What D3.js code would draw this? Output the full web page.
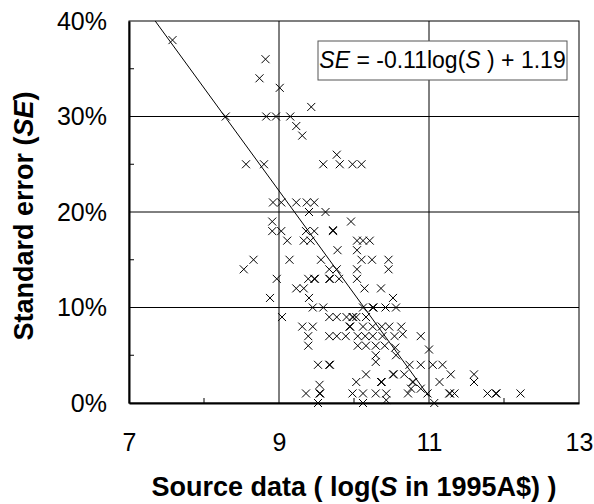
<!DOCTYPE html>
<html>
<head>
<meta charset="utf-8">
<script src="https://cdn.jsdelivr.net/npm/d3@7"></script>
<style>
  body { margin: 0; background: #fff; }
  text { font-family: "Liberation Sans", Arial, sans-serif; fill: #000; }
</style>
</head>
<body>
<div id="chart"></div>
<script>
// log(S) values of each source
const logS = [
  7.58, 8.82, 8.74, 9.01, 9.43,
  8.29, 8.83, 8.96, 9.15,
  9.23, 9.31,
  9.77,
  8.56, 8.80, 9.59, 9.81, 9.98, 10.10,
  8.92, 9.03, 9.23, 9.37, 9.47,
  9.40, 9.62,
  8.91, 9.96,
  8.91, 9.03, 9.36, 9.47, 9.72, 9.72,
  9.11, 9.33, 9.42, 10.04, 10.12, 10.21,
  9.78, 10.04,
  8.66, 9.14, 9.56, 10.10, 10.24, 10.46,
  8.53, 9.67, 9.77, 10.04, 10.46,
  8.97, 9.39, 9.47, 9.48, 9.67, 9.68, 9.80, 10.04,
  9.23, 9.33, 10.14, 10.36,
  8.88, 9.40, 10.52,
  9.45, 9.59, 10.12, 10.25, 10.26, 10.42, 10.56,
  9.04, 9.67, 9.77, 9.90, 9.98, 9.99, 10.03, 10.16,
  9.31, 9.45, 9.94, 9.95, 10.12, 10.25, 10.37, 10.47, 10.63,
  9.39, 9.67, 9.77, 9.89, 10.05, 10.15, 10.25, 10.38, 10.54, 10.65, 10.89,
  9.39, 10.05, 10.16, 10.29, 10.41, 10.55, 11.00,
  10.29, 10.56,
  10.29, 9.52, 9.67, 9.68, 10.74, 10.89, 11.05, 11.18,
  10.16, 10.52, 10.53, 10.67, 11.29, 11.60,
  10.03, 10.36, 10.37, 10.78, 10.79, 11.14, 11.60, 9.54, 10.76, 10.89,
  9.36, 9.54, 9.55, 9.98, 10.12, 10.29, 10.43, 10.72, 10.98, 11.27, 11.28, 11.34, 11.78, 11.89, 11.90, 12.22,
  9.52, 10.12, 10.43, 11.07
];
// standard error of each source (fraction)
const stdErr = [
  0.38, 0.36, 0.34, 0.33, 0.31,
  0.30, 0.30, 0.30, 0.30,
  0.29, 0.28,
  0.26,
  0.25, 0.25, 0.25, 0.25, 0.25, 0.25,
  0.21, 0.21, 0.21, 0.21, 0.21,
  0.20, 0.20,
  0.19, 0.19,
  0.18, 0.18, 0.18, 0.18, 0.18, 0.181,
  0.17, 0.17, 0.17, 0.17, 0.17, 0.17,
  0.16, 0.16,
  0.15, 0.15, 0.15, 0.15, 0.15, 0.15,
  0.14, 0.14, 0.14, 0.14, 0.14,
  0.13, 0.13, 0.13, 0.13, 0.13, 0.13, 0.13, 0.13,
  0.12, 0.12, 0.12, 0.12,
  0.11, 0.11, 0.11,
  0.10, 0.10, 0.10, 0.10, 0.10, 0.10, 0.10,
  0.09, 0.09, 0.09, 0.09, 0.09, 0.09, 0.09, 0.09,
  0.08, 0.08, 0.08, 0.08, 0.08, 0.08, 0.08, 0.08, 0.08,
  0.07, 0.07, 0.07, 0.07, 0.07, 0.07, 0.07, 0.07, 0.07, 0.072, 0.07,
  0.06, 0.06, 0.06, 0.06, 0.06, 0.058, 0.056,
  0.05, 0.05,
  0.043, 0.04, 0.04, 0.04, 0.04, 0.04, 0.04, 0.04,
  0.03, 0.03, 0.03, 0.03, 0.03, 0.03,
  0.022, 0.022, 0.022, 0.022, 0.022, 0.022, 0.022, 0.019, 0.015, 0.015,
  0.01, 0.01, 0.01, 0.01, 0.01, 0.01, 0.01, 0.01, 0.01, 0.01, 0.01, 0.01, 0.01, 0.01, 0.01, 0.01,
  0.0, 0.0, 0.003, 0.0
];

const xTicks = [7, 9, 11, 13];
const xMinor = [8, 10, 12];
const yTicks = [0, 0.1, 0.2, 0.3, 0.4];
const yMinor = [0.05, 0.15, 0.25, 0.35];

// fitted trend line, drawn from the top of the plot to x = 11
const trendSlope = -0.1077, trendIntercept = 1.1915;
const trendX = [7.35, 11.0];

const margin = {top: 21, right: 15, bottom: 101, left: 129},
    width = 594 - margin.left - margin.right,
    height = 504 - margin.top - margin.bottom;

const svg = d3.select("#chart")
    .append("svg")
    .attr("width", 594)
    .attr("height", 504);

const g = svg.append("g")
    .attr("transform", `translate(${margin.left}, ${margin.top})`);

const x = d3.scaleLinear().domain([7, 13]).range([0, width]);
const y = d3.scaleLinear().domain([0, 0.4]).range([height, 0]);

// grid lines
g.append("g")
    .selectAll("line")
    .data(yTicks.slice(1, -1))
    .join("line")
    .attr("x1", 0).attr("x2", width)
    .attr("y1", d => y(d)).attr("y2", d => y(d))
    .attr("stroke", "#000").attr("stroke-width", 1);
g.append("g")
    .selectAll("line")
    .data(xTicks.slice(1, -1))
    .join("line")
    .attr("y1", 0).attr("y2", height)
    .attr("x1", d => x(d)).attr("x2", d => x(d))
    .attr("stroke", "#000").attr("stroke-width", 1);

// frame
g.append("rect")
    .attr("width", width).attr("height", height)
    .attr("fill", "none").attr("stroke", "#000").attr("stroke-width", 1);

// minor ticks (inward)
g.append("g").selectAll("line").data(xMinor).join("line")
    .attr("x1", d => x(d)).attr("x2", d => x(d))
    .attr("y1", height).attr("y2", height - 5)
    .attr("stroke", "#000");
g.append("g").selectAll("line").data(yMinor).join("line")
    .attr("y1", d => y(d)).attr("y2", d => y(d))
    .attr("x1", 0).attr("x2", 5)
    .attr("stroke", "#000");

// axes lines + labels
const xAxis = g.append("g")
    .attr("transform", `translate(0, ${height})`)
    .call(d3.axisBottom(x).tickValues(xTicks).tickSize(0).tickPadding(30).tickFormat(d3.format("d")));
xAxis.select(".domain").attr("stroke-width", 2);
xAxis.selectAll("text").style("font-size", "25px").attr("font-family", null);

const yAxis = g.append("g")
    .call(d3.axisLeft(y).tickValues(yTicks).tickSize(0).tickPadding(22).tickFormat(d3.format(".0%")));
yAxis.select(".domain").attr("stroke-width", 2);
yAxis.selectAll("text").style("font-size", "25px").attr("font-family", null);

// trend line
g.append("line")
    .attr("x1", x(trendX[0])).attr("y1", y(trendIntercept + trendSlope * trendX[0]))
    .attr("x2", x(trendX[1])).attr("y2", y(trendIntercept + trendSlope * trendX[1]))
    .attr("stroke", "#000").attr("stroke-width", 1);

// points as x marks
const s = 4;
g.append("g")
    .selectAll("path")
    .data(logS.map((v, i) => [v, stdErr[i]]))
    .join("path")
    .attr("d", d => {
        const cx = x(d[0]), cy = y(d[1]);
        return `M${cx - s},${cy - s}L${cx + s},${cy + s}M${cx - s},${cy + s}L${cx + s},${cy - s}`;
    })
    .attr("stroke", "#000").attr("stroke-width", 1).attr("fill", "none");

// equation box
const eq = svg.append("g");
eq.append("rect")
    .attr("x", 318).attr("y", 41).attr("width", 249).attr("height", 39)
    .attr("fill", "#fff").attr("stroke", "#555").attr("stroke-width", 1);
const eqText = eq.append("text")
    .attr("x", 442.5).attr("y", 68)
    .attr("text-anchor", "middle")
    .style("font-size", "23px");
eqText.append("tspan").style("font-style", "italic").text("SE");
eqText.append("tspan").text(" = -0.11log(");
eqText.append("tspan").style("font-style", "italic").text("S");
eqText.append("tspan").text(" ) + 1.19");

// axis titles
const xTitle = svg.append("text")
    .attr("x", margin.left + width / 2).attr("y", 496)
    .attr("text-anchor", "middle")
    .style("font-size", "27px").style("font-weight", "bold");
xTitle.append("tspan").text("Source data ( log(");
xTitle.append("tspan").style("font-style", "italic").text("S");
xTitle.append("tspan").text(" in 1995A$) )");

const yTitle = svg.append("text")
    .attr("transform", `translate(33, ${margin.top + height / 2 + 4}) rotate(-90)`)
    .attr("text-anchor", "middle")
    .style("font-size", "27px").style("font-weight", "bold");
yTitle.append("tspan").text("Standard error (");
yTitle.append("tspan").style("font-style", "italic").text("SE");
yTitle.append("tspan").text(")");
</script>
</body>
</html>
